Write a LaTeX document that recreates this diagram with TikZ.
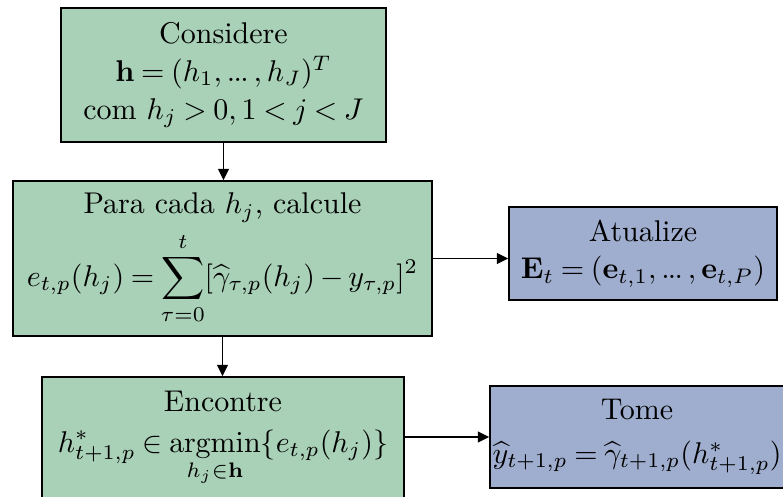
\documentclass[tikz,border=0pt]{standalone}
\usepackage{amsmath}
\usetikzlibrary{arrows.meta}
\definecolor{boxgreen}{RGB}{169,209,183}
\definecolor{boxblue}{RGB}{159,173,206}
\newcommand{\tdots}{\mathinner{.\mkern-1mu.\mkern-1mu.}}
\newcommand{\mymu}{\thickmuskip=4mu plus 2mu\relax\medmuskip=3mu plus 1mu minus 2mu\relax}
\begin{document}
\begin{tikzpicture}[x=0.3333pt,y=-0.3333pt,
  basebox/.style={draw=black, line width=0.55pt, rectangle, align=center, inner sep=0pt,
    font=\fontsize{10}{12.6}\selectfont\mymu},
  gbox/.style={basebox, fill=boxgreen},
  bbox/.style={basebox, fill=boxblue},
  conn/.style={line width=0.55pt, -{Triangle[length=3.8pt,width=3.6pt]}}]
\useasboundingbox (0,0) rectangle (783,496);
\clip (0,0) rectangle (783,496);
\node[gbox, minimum width=325*0.3333pt, minimum height=134*0.3333pt] (b1) at (223.5,75)
  {Considere\\ $\mathbf{h}=(h_1,\tdots,h_J)^T$\\ com $h_j>0, 1<j<J$};
\node[gbox, minimum width=419*0.3333pt, minimum height=155*0.3333pt] (b2) at (222.5,258.5)
  {Para cada $h_j$, calcule\\[2.5pt] $\displaystyle e_{t,p}(h_j)=\sum_{\tau=0}^{t}[\widehat{\gamma}_{\tau,p}(h_j)-y_{\tau,p}]^2$};
\node[bbox, minimum width=268*0.3333pt, minimum height=93*0.3333pt] (b3) at (643,253.5)
  {Atualize\\ $\mathbf{E}_t=(\mathbf{e}_{t,1},\tdots,\mathbf{e}_{t,P})$};
\node[gbox, minimum width=362*0.3333pt, minimum height=124*0.3333pt] (b4) at (223,439)
  {Encontre\\[1pt] $\displaystyle h^*_{t+1,p}\in\operatorname*{argmin}_{h_j\in\mathbf{h}}\{e_{t,p}(h_j)\}$};
\node[bbox, minimum width=294*0.3333pt, minimum height=102*0.3333pt] (b5) at (637,437)
  {Tome\\[2pt] $\widehat{y}_{t+1,p}=\widehat{\gamma}_{t+1,p}(h^*_{t+1,p})$};
\draw[conn] (b1.south) -- (b2.north -| b1.south);
\draw[conn] (b2.east) -- (b2.east -| b3.west);
\draw[conn] (b2.south) -- (b4.north -| b2.south);
\draw[conn] (b5.west -| b4.east) -- (b5.west);
\end{tikzpicture}
\end{document}
